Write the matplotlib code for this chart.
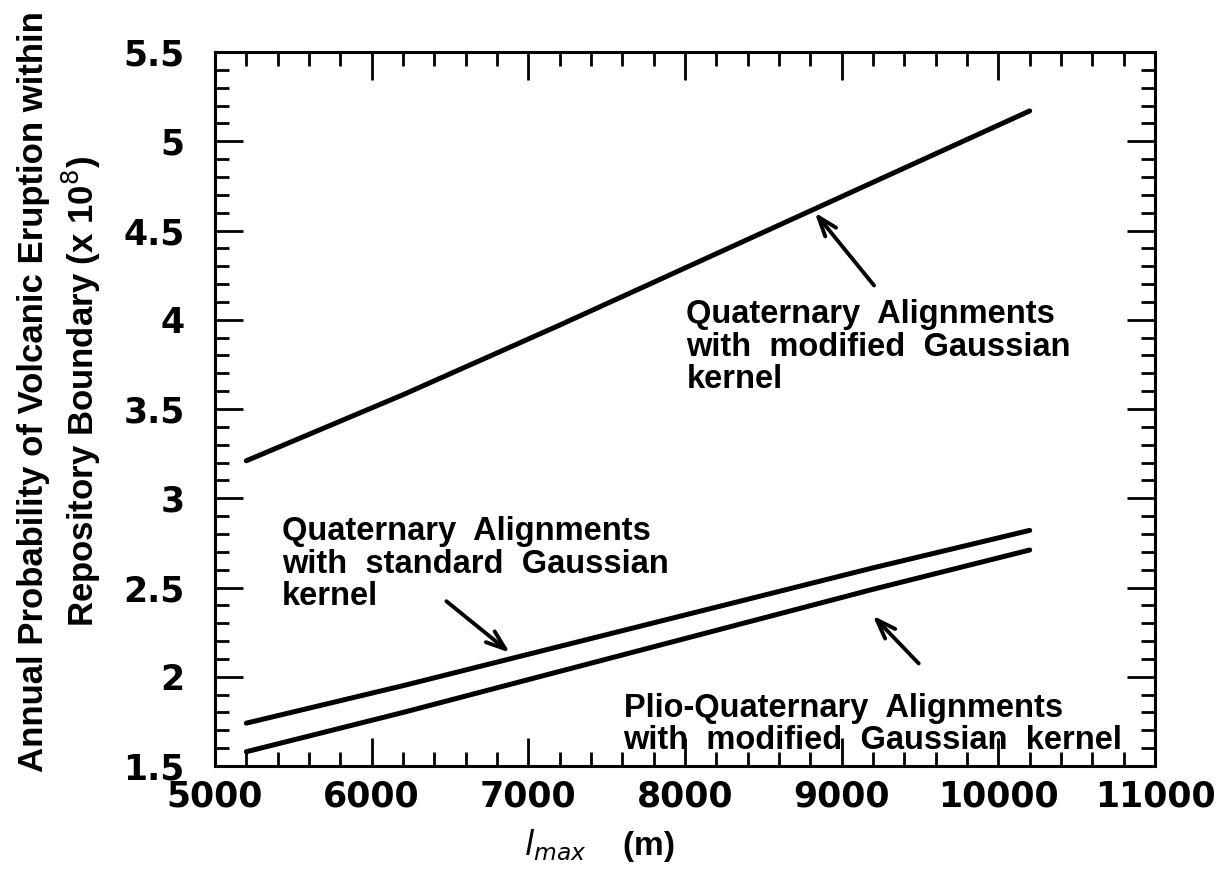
import numpy as np
import matplotlib.pyplot as plt
from matplotlib.ticker import MultipleLocator

# l_max values (m) and annual eruption probability (x 10^8)
l_max = [5200, 6200, 7200, 8200, 9200, 10200]
quat_modified = [3.21, 3.58, 3.97, 4.37, 4.77, 5.17]
quat_standard = [1.74, 1.95, 2.17, 2.39, 2.61, 2.82]
plio_modified = [1.58, 1.80, 2.03, 2.26, 2.49, 2.71]

x_ticks = [5000, 6000, 7000, 8000, 9000, 10000, 11000]
y_ticks = [1.5, 2, 2.5, 3, 3.5, 4, 4.5, 5, 5.5]
y_tick_labels = ['1.5', '2', '2.5', '3', '3.5', '4', '4.5', '5', '5.5']

label_font = ['Liberation Sans', 'DejaVu Sans']

fig = plt.figure(figsize=(12.23, 8.83), dpi=100)
ax = fig.add_axes([0.1758, 0.1325, 0.7686, 0.8086])

for y in (quat_modified, quat_standard, plio_modified):
    ax.plot(l_max, y, color='black', lw=3.6, solid_capstyle='round')

ax.set_xlim(5000, 11000)
ax.set_ylim(1.5, 5.5)
ax.set_xticks(x_ticks)
ax.set_yticks(y_ticks)
ax.set_yticklabels(y_tick_labels)
ax.xaxis.set_minor_locator(MultipleLocator(200))
ax.yaxis.set_minor_locator(MultipleLocator(0.1))

ax.tick_params(which='both', direction='in', top=True, right=True, width=2)
ax.tick_params(which='major', length=20)
ax.tick_params(which='minor', length=10)
ax.tick_params(axis='x', pad=10)
ax.tick_params(axis='y', pad=22)
for lab in ax.get_xticklabels() + ax.get_yticklabels():
    lab.set_fontfamily('DejaVu Sans')
    lab.set_fontweight('bold')
    lab.set_fontsize(25)
for s in ax.spines.values():
    s.set_linewidth(2.2)

# annotations
txt = dict(fontsize=23.5, fontweight='bold', family=label_font, va='top', ha='left',
           linespacing=1.05)
ax.text(8009, 4.114, 'Quaternary  Alignments\nwith  modified  Gaussian\nkernel', **txt)
ax.text(5426, 2.898, 'Quaternary  Alignments\nwith  standard  Gaussian\nkernel', **txt)
ax.text(7608, 1.911, 'Plio-Quaternary  Alignments\nwith  modified  Gaussian  kernel', **txt)

arrow = dict(arrowstyle='->,head_length=1.4,head_width=0.5', color='black', lw=2.8)
ax.annotate('', xy=(8817, 4.613), xytext=(9218, 4.18), arrowprops=arrow)
ax.annotate('', xy=(6896, 2.125), xytext=(6463, 2.433), arrowprops=arrow)
ax.annotate('', xy=(9186, 2.354), xytext=(9504, 2.063), arrowprops=arrow)

fig.text(0.049, 1 - 392 / 883,
         'Annual Probability of Volcanic Eruption within\nRepository Boundary (x 10$^{8}$)',
         rotation=90, ha='center', va='center', multialignment='center',
         fontsize=25, fontweight='bold', family=label_font, linespacing=1.3)
fig.text(0.49, 1 - 845 / 883, '$\\mathbf{\\mathit{l}}_{\\mathit{max}}$    (m)',
         ha='center', va='center', fontsize=24, fontweight='bold', family=label_font)

fig.savefig('out.png', dpi=100)
